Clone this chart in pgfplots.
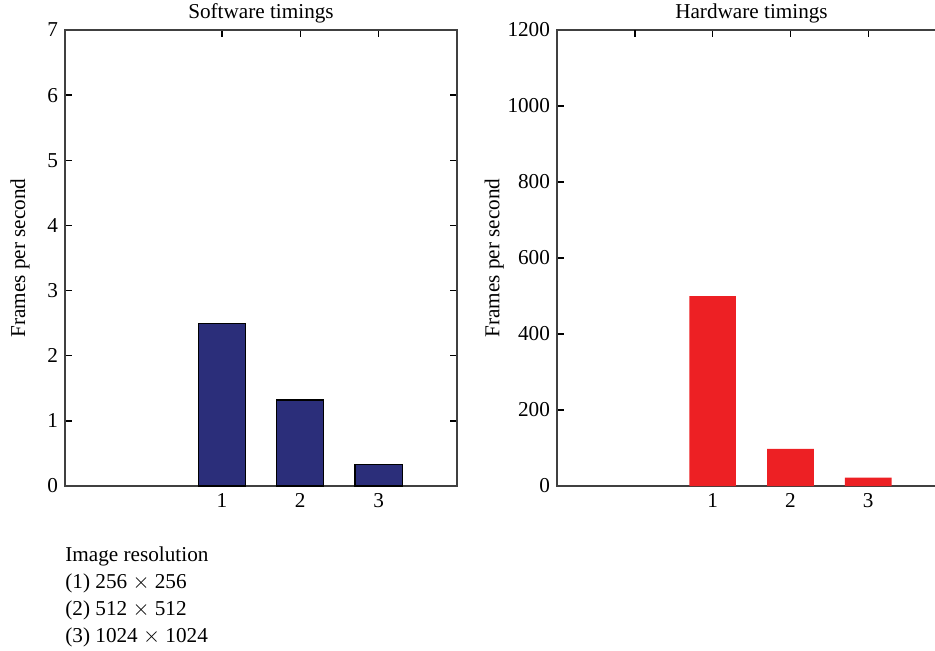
\documentclass[border=0pt]{standalone}
\usepackage{pgfplots}
\pgfplotsset{compat=1.18}
\usepackage{fontspec}
\setmainfont{Liberation Serif}
\definecolor{navy}{HTML}{2B2E7A}
\definecolor{barred}{HTML}{ED2024}
\pgfplotsset{
  every axis/.append style={
    /pgf/number format/assume math mode=true,
    /pgf/number format/1000 sep={},
    scale only axis,
    font=\fontsize{10.6pt}{12.5pt}\selectfont,
    axis line style={draw=black!75, line width=0.75pt},
    tick align=inside,
    major tick length=3.5pt,
    every tick/.style={black, line width=0.7pt},
    ymin=0,
    xmin=-1, xmax=4,
    xtick={1,2,3},
    ylabel={Frames per second},
    title style={yshift=-6pt},
  }
}
\begin{document}
\begin{tikzpicture}
\useasboundingbox (0,0) rectangle (467.5pt,325pt);
\clip (0,0) rectangle (467.5pt,325pt);
\begin{axis}[
  at={(32.5pt,82pt)}, anchor=south west,
  width=196pt, height=228pt,
  ymax=7, ytick={0,1,...,7},
  title={Software timings},
  ylabel style={yshift=2pt},
]
\addplot[ybar, bar width=0.6, fill=navy, draw=black, line width=0.6pt] coordinates {(1,2.50) (2,1.32) (3,0.33)};
\end{axis}
\begin{axis}[
  at={(278.5pt,82pt)}, anchor=south west,
  width=194.5pt, height=228pt,
  ymax=1200, ytick={0,200,...,1200},
  title={Hardware timings},
  ylabel style={yshift=-5pt},
]
\addplot[ybar, bar width=0.6, fill=barred, draw=none] coordinates {(1,500) (2,98) (3,22)};
\draw[black, line width=0.7pt] (axis cs:0,1200) -- ([yshift=-3.5pt]axis cs:0,1200);
\end{axis}
\node[anchor=north west, inner sep=0pt, align=left, font=\fontsize{10.6pt}{13.5pt}\selectfont] at (32.5pt,52pt)
  {Image resolution\\(1) 256 $\times$ 256\\(2) 512 $\times$ 512\\(3) 1024 $\times$ 1024};
\end{tikzpicture}
\end{document}
